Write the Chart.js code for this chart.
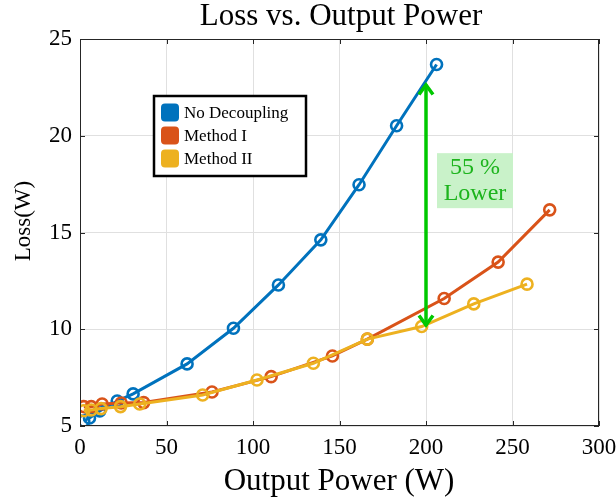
<!DOCTYPE html>
<html><head><meta charset="utf-8">
<script src="https://cdn.jsdelivr.net/npm/chart.js@4.4.1/dist/chart.umd.min.js"></script>
<style>html,body{margin:0;padding:0;background:#fff}#wrap{width:616px;height:499px}</style>
</head><body><div id="wrap"><canvas id="c" width="616" height="499"></canvas></div>
<script>
// ---- data ----
const seriesNames = ["No Decoupling", "Method I", "Method II"];
const noDecX = [2.2, 5.5, 11.4, 21.5, 30.7, 61.9, 88.7, 114.7, 139.2, 161.3, 183.0, 206.1];
const noDecY = [5.26, 5.41, 5.78, 6.29, 6.66, 8.21, 10.05, 12.29, 14.62, 17.47, 20.52, 23.68];
const m1X = [2.2, 6.5, 12.8, 23.8, 36.8, 76.3, 110.5, 145.9, 166.1, 210.5, 241.7, 271.5];
const m1Y = [6.0, 6.0, 6.14, 6.19, 6.21, 6.76, 7.55, 8.62, 9.49, 11.59, 13.47, 16.17];
const m2X = [2.2, 6.5, 12.2, 23.4, 34.5, 70.9, 102.3, 134.9, 166.1, 197.5, 227.6, 258.4];
const m2Y = [5.79, 5.83, 5.9, 6.0, 6.14, 6.6, 7.38, 8.24, 9.49, 10.14, 11.31, 12.33];
const xTicks = [0, 50, 100, 150, 200, 250, 300];
const yTicks = [5, 10, 15, 20, 25];
const titleText = "Loss vs. Output Power";
const xTitle = "Output Power (W)";
const yTitle = "Loss(W)";
const noteLines = ["55 %", "Lower"];
const arrowX = 200, arrowFrom = 10.14, arrowTo = 22.7;

// ---- styles ----
const colors = ["#0072BD", "#D95319", "#EDB120"];
const FONT = "'Liberation Serif', 'DejaVu Serif', serif";
const AX = "#262626";

function pts(xs, ys) { return xs.map((x, i) => ({ x: x, y: ys[i] })); }

const seriesData = [pts(noDecX, noDecY), pts(m1X, m1Y), pts(m2X, m2Y)];
const datasets = seriesData.map((d, i) => ({
  label: seriesNames[i],
  data: d,
  borderColor: colors[i],
  backgroundColor: 'rgba(0,0,0,0)',
  borderWidth: 3,
  pointRadius: 5.5,
  pointHoverRadius: 5.5,
  pointBorderWidth: 2.6,
  pointBorderColor: colors[i],
  pointBackgroundColor: 'rgba(0,0,0,0)',
  tension: 0,
  order: 3 - i
}));

const decor = {
  id: 'decor',
  afterDatasetsDraw(chart) {
    const ctx = chart.ctx, a = chart.chartArea;
    const xs = chart.scales.x, ys = chart.scales.y;
    ctx.save();
    // box
    ctx.strokeStyle = AX; ctx.lineWidth = 1;
    ctx.strokeRect(Math.round(a.left) + 0.5, Math.round(a.top) + 0.5, Math.round(a.right - a.left) - 1, Math.round(a.bottom - a.top) - 1);
    // inner ticks
    ctx.beginPath();
    xTicks.forEach(v => {
      const p = Math.round(xs.getPixelForValue(v)) + 0.5;
      ctx.moveTo(p, a.bottom); ctx.lineTo(p, a.bottom - 5);
      ctx.moveTo(p, a.top); ctx.lineTo(p, a.top + 5);
    });
    yTicks.forEach(v => {
      const p = Math.round(ys.getPixelForValue(v)) + 0.5;
      ctx.moveTo(a.left, p); ctx.lineTo(a.left + 5, p);
      ctx.moveTo(a.right, p); ctx.lineTo(a.right - 5, p);
    });
    ctx.stroke();

    // arrow
    const ax = xs.getPixelForValue(arrowX);
    const y1 = ys.getPixelForValue(arrowTo), y2 = ys.getPixelForValue(arrowFrom);
    ctx.strokeStyle = "#00c800"; ctx.lineWidth = 3.5; ctx.lineCap = 'butt'; ctx.lineJoin = 'miter';
    ctx.beginPath(); ctx.moveTo(ax, y1 + 1); ctx.lineTo(ax, y2 - 1); ctx.stroke();
    ctx.beginPath();
    ctx.moveTo(ax - 7, y1 + 11); ctx.lineTo(ax, y1 + 1.5); ctx.lineTo(ax + 7, y1 + 11);
    ctx.moveTo(ax - 7, y2 - 11); ctx.lineTo(ax, y2 - 1.5); ctx.lineTo(ax + 7, y2 - 11);
    ctx.stroke();

    // annotation box
    const bx = ax + 11, by = ys.getPixelForValue(19.1);
    ctx.fillStyle = "#c9f2c9";
    ctx.fillRect(bx, by, 76, 55);
    ctx.fillStyle = "#1db41d";
    ctx.font = "24px " + FONT;
    ctx.textAlign = 'center'; ctx.textBaseline = 'middle';
    ctx.fillText(noteLines[0], bx + 38, by + 15);
    ctx.fillText(noteLines[1], bx + 38, by + 41);

    // legend
    const lx = 154, ly = 96, lw = 152, lh = 80;
    ctx.fillStyle = "#fff"; ctx.fillRect(lx, ly, lw, lh);
    ctx.strokeStyle = "#000"; ctx.lineWidth = 2.5; ctx.strokeRect(lx, ly, lw, lh);
    ctx.font = "17px " + FONT; ctx.textAlign = 'left'; ctx.textBaseline = 'middle';
    seriesNames.forEach((n, i) => {
      const cy = 112.5 + i * 23;
      ctx.fillStyle = colors[i];
      ctx.beginPath();
      if (ctx.roundRect) ctx.roundRect(161, cy - 9, 18, 18, 4); else ctx.rect(161, cy - 9, 18, 18);
      ctx.fill();
      ctx.fillStyle = "#000";
      ctx.fillText(n, 184, cy + 1);
    });

    // titles
    ctx.fillStyle = "#000";
    ctx.textAlign = 'center'; ctx.textBaseline = 'alphabetic';
    ctx.font = "31px " + FONT;
    ctx.fillText(titleText, 341, 25);
    ctx.fillText(xTitle, 339, 490);
    ctx.save();
    ctx.translate(24, 221); ctx.rotate(-Math.PI / 2);
    ctx.textBaseline = 'middle';
    ctx.font = "23px " + FONT;
    ctx.fillText(yTitle, 0, 0);
    ctx.restore();
    ctx.restore();
  }
};

new Chart(document.getElementById('c'), {
  type: 'line',
  data: { datasets: datasets },
  options: {
    responsive: false,
    animation: false,
    events: [],
    layout: { padding: { left: 0, right: 17, top: 39, bottom: 0 } },
    plugins: {
      legend: { display: false },
      tooltip: { enabled: false },
      title: { display: false }
    },
    scales: {
      x: {
        type: 'linear', min: 0, max: 300,
        afterBuildTicks: s => { s.ticks = xTicks.map(v => ({ value: v })); },
        ticks: { color: "#000", font: { family: FONT, size: 23 }, padding: 8, maxRotation: 0 },
        grid: { color: "#e0e0e0", drawTicks: false, lineWidth: 1 },
        border: { display: false },
        afterFit: s => { s.height = 73; s.paddingLeft = 0; s.paddingRight = 0; }
      },
      y: {
        type: 'linear', min: 5, max: 25,
        afterBuildTicks: s => { s.ticks = yTicks.map(v => ({ value: v })); },
        ticks: { color: "#000", font: { family: FONT, size: 23 }, padding: 8 },
        grid: { color: "#e0e0e0", drawTicks: false, lineWidth: 1 },
        border: { display: false },
        afterFit: s => { s.width = 80; s.paddingTop = 0; s.paddingBottom = 0; }
      }
    }
  },
  plugins: [decor]
});
</script>
</body></html>
